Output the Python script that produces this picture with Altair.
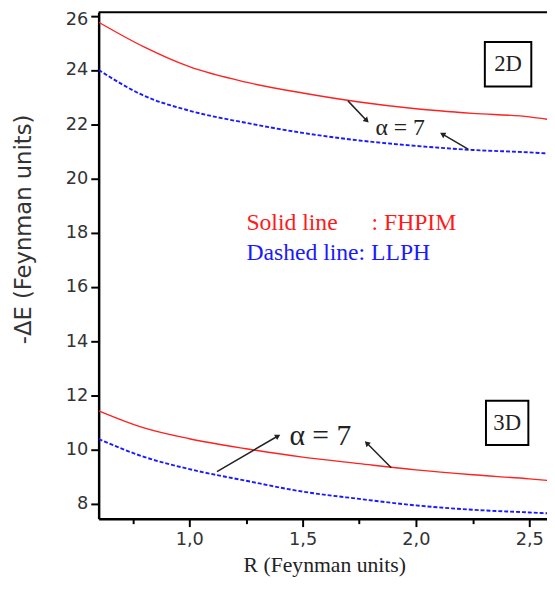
import altair as alt
import pandas as pd

# ---- data ----
R = [0.6, 0.8, 1.0, 1.25, 1.5, 1.75, 2.0, 2.25, 2.5, 2.58]
fhpim_2d = [25.76, 24.85, 24.12, 23.55, 23.15, 22.82, 22.57, 22.40, 22.27, 22.18]
llph_2d = [24.0, 23.05, 22.50, 22.05, 21.68, 21.40, 21.20, 21.05, 20.96, 20.92]
fhpim_3d = [11.43, 10.80, 10.40, 10.03, 9.72, 9.48, 9.25, 9.07, 8.92, 8.86]
llph_3d = [10.39, 9.73, 9.28, 8.85, 8.45, 8.18, 7.94, 7.78, 7.68, 7.65]

x_ticks = [0.75, 1.0, 1.25, 1.5, 1.75, 2.0, 2.25, 2.5]
y_ticks = list(range(8, 27))

# annotation texts (data coordinates)
lab_text = ["Solid line", ": FHPIM", "Dashed line: LLPH"]
lab_x = [1.252, 1.804, 1.252]
lab_y = [18.36, 18.36, 17.23]
lab_col = ["#ff1a1a", "#ff1a1a", "#1a1aff"]

alpha_text = ["\u03b1 = 7", "\u03b1 = 7"]
alpha_x = [1.93, 1.578]
alpha_y = [21.84, 10.50]
alpha_size = [24, 30]

box_text = ["2D", "3D"]
box_x1 = [2.304, 2.309]
box_x2 = [2.509, 2.496]
box_y1 = [25.03, 11.80]
box_y2 = [23.39, 10.17]

arrow_id = ["a1", "a2", "a3", "a4"]
arrow_tail_x = [1.70, 2.23, 1.122, 1.891]
arrow_tail_y = [22.86, 21.08, 9.19, 9.33]
arrow_head_x = [1.783, 2.117, 1.391, 1.783]
arrow_head_y = [22.13, 21.63, 10.50, 10.24]
arrow_angle = [136, 300, 60, 315]

W, H = 455, 514
XDOM = [0.6, 0.6 + W / 230.0]
YDOM = [7.45, 26.13]

lines = pd.DataFrame(
    [{"R": r, "E": v, "model": "FHPIM", "dim": "2D"} for r, v in zip(R, fhpim_2d)]
    + [{"R": r, "E": v, "model": "FHPIM", "dim": "3D"} for r, v in zip(R, fhpim_3d)]
    + [{"R": r, "E": v, "model": "LLPH", "dim": "2D"} for r, v in zip(R, llph_2d)]
    + [{"R": r, "E": v, "model": "LLPH", "dim": "3D"} for r, v in zip(R, llph_3d)]
)

xscale = alt.Scale(domain=XDOM, nice=False, zero=False)
yscale = alt.Scale(domain=YDOM, nice=False, zero=False)

xaxis = alt.Axis(
    values=x_ticks,
    labelExpr="datum.value % 0.5 == 0 ? replace(format(datum.value, '.1f'), '.', ',') : ''",
    title="R (Feynman units)",
    titleFont="Liberation Serif", titleFontSize=22, titleFontWeight="normal",
    titleColor="#222222", titlePadding=7, titleX=229,
    labelFont="DejaVu Sans", labelFontSize=18, labelColor="#333333",
    labelPadding=4, labelFlush=False, labelOverlap=False,
    domainColor="black", domainWidth=2.5,
    tickColor="black", tickWidth=2,
    tickSize={"condition": {"test": "datum.value % 0.5 != 0", "value": 5}, "value": 8},
    grid=False,
)
yaxis = alt.Axis(
    values=y_ticks,
    labelExpr="datum.value % 2 == 0 ? datum.label : ''",
    labelOffset={"condition": {"test": "datum.value == 26", "value": 4}, "value": 0},
    title="-\u0394E (Feynman units)",
    titleFont="DejaVu Sans", titleFontSize=23, titleFontWeight="normal",
    titleColor="#333333", titleAngle=270, titleAlign="center", titleBaseline="middle",
    titleX=-76, titleY=220,
    labelFont="DejaVu Sans", labelFontSize=18, labelColor="#333333",
    labelPadding=3, labelFlush=False, labelOverlap=False,
    domainColor="black", domainWidth=2.5,
    tickColor="black", tickWidth=2,
    tickSize={"condition": {"test": "datum.value % 2 != 0", "value": 5}, "value": 8},
    grid=False,
)

base = alt.Chart(lines)

red = base.transform_filter(alt.datum.model == "FHPIM").mark_line(
    color="#ff2020", strokeWidth=1.4, clip=True, interpolate="monotone"
).encode(
    x=alt.X("R:Q", scale=xscale, axis=xaxis),
    y=alt.Y("E:Q", scale=yscale, axis=yaxis),
    detail="dim:N",
)
blue = base.transform_filter(alt.datum.model == "LLPH").mark_line(
    color="#1a1aff", strokeWidth=1.9, strokeDash=[4, 2], clip=True, interpolate="monotone"
).encode(
    x=alt.X("R:Q", scale=xscale),
    y=alt.Y("E:Q", scale=yscale),
    detail="dim:N",
)

labels_df = pd.DataFrame({"t": lab_text, "x": lab_x, "y": lab_y, "c": lab_col})
labels = alt.Chart(labels_df).mark_text(
    font="Liberation Serif", fontSize=24, align="left", baseline="middle"
).encode(
    x=alt.X("x:Q", scale=xscale), y=alt.Y("y:Q", scale=yscale),
    text="t:N", color=alt.Color("c:N", scale=None),
)

alpha_df = pd.DataFrame({"t": alpha_text, "x": alpha_x, "y": alpha_y, "s": alpha_size})
alphas = alt.Chart(alpha_df).mark_text(
    font="Liberation Serif", align="center", baseline="middle", color="#222222"
).encode(
    x=alt.X("x:Q", scale=xscale), y=alt.Y("y:Q", scale=yscale),
    text="t:N", size=alt.Size("s:Q", scale=None),
)

box_df = pd.DataFrame({"t": box_text, "x1": box_x1, "x2": box_x2, "y1": box_y1, "y2": box_y2})
box_df["xm"] = (box_df.x1 + box_df.x2) / 2
box_df["ym"] = (box_df.y1 + box_df.y2) / 2
boxes = alt.Chart(box_df).mark_rect(
    fill="white", stroke="black", strokeWidth=2
).encode(
    x=alt.X("x1:Q", scale=xscale), x2="x2:Q",
    y=alt.Y("y1:Q", scale=yscale), y2="y2:Q",
)
box_text_layer = alt.Chart(box_df).mark_text(
    font="Liberation Serif", fontSize=23, align="center", baseline="middle", color="#222222"
).encode(
    x=alt.X("xm:Q", scale=xscale), y=alt.Y("ym:Q", scale=yscale), text="t:N",
)

arr_df = pd.DataFrame(
    [{"id": i, "x": tx, "y": ty, "o": 0} for i, tx, ty in zip(arrow_id, arrow_tail_x, arrow_tail_y)]
    + [{"id": i, "x": hx, "y": hy, "o": 1} for i, hx, hy in zip(arrow_id, arrow_head_x, arrow_head_y)]
)
shafts = alt.Chart(arr_df).mark_line(color="#222222", strokeWidth=1.5).encode(
    x=alt.X("x:Q", scale=xscale), y=alt.Y("y:Q", scale=yscale),
    detail="id:N", order="o:Q",
)
head_df = pd.DataFrame({"x": arrow_head_x, "y": arrow_head_y, "a": arrow_angle})
heads = alt.Chart(head_df).mark_point(
    shape="triangle-up", filled=True, color="#222222", size=40, opacity=1
).encode(
    x=alt.X("x:Q", scale=xscale), y=alt.Y("y:Q", scale=yscale),
    angle=alt.Angle("a:Q", scale=None),
)

top_frame = alt.Chart(pd.DataFrame({"k": [0]})).mark_rule(color="black", strokeWidth=2).encode(
    x=alt.value(0), x2=alt.value(W), y=alt.value(0),
)

chart = alt.layer(
    red, blue, labels, alphas, boxes, box_text_layer, shafts, heads, top_frame
).properties(
    width=W, height=H,
    autosize=alt.AutoSizeParams(type="none"),
    padding={"left": 92, "top": 0, "right": 0, "bottom": 62},
).configure_view(stroke=None)

chart.save("out.html", embed_options={"renderer": "svg", "actions": False})
